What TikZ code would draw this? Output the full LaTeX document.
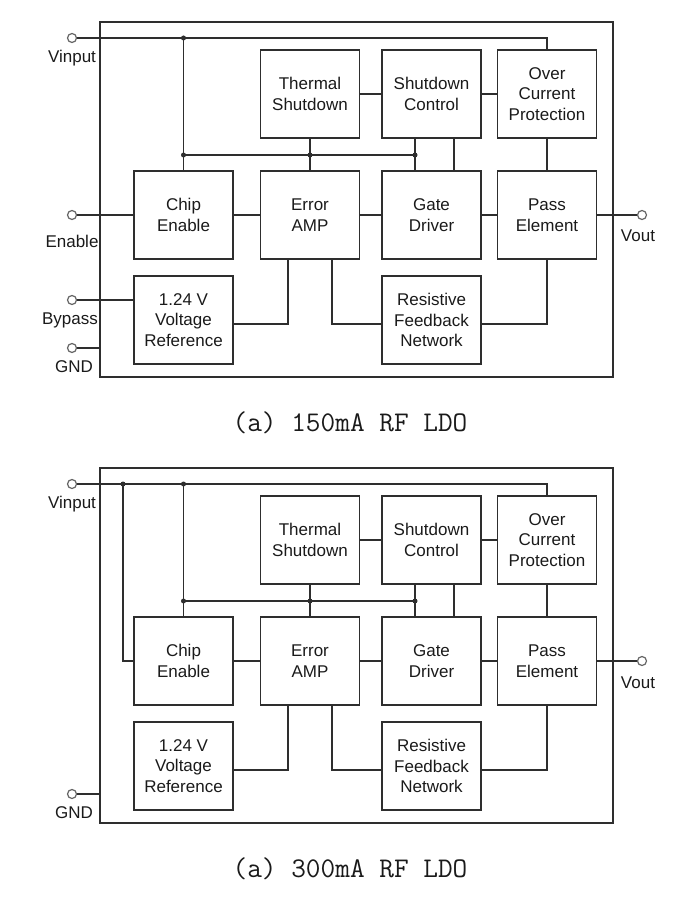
\documentclass[tikz,border=0pt]{standalone}
\usepackage{fontspec}
\setmainfont{Liberation Sans}
\usetikzlibrary{positioning}
\definecolor{linecol}{HTML}{2E2E2E}
\definecolor{textcol}{HTML}{1A1A1A}
\tikzset{
	block/.style={draw=linecol, line width=1.5pt, minimum width=99pt, minimum height=88pt, align=center, inner sep=1pt, text=textcol, font=\fontsize{17}{20.5}\selectfont},
	package/.style={draw=linecol, line width=1.5pt, minimum width=513pt, minimum height=355pt, inner sep=0pt},
	pinout/.style={circle, draw=gray!80!black, line width=1.2pt, fill=white, minimum size=9pt, inner sep=0pt},
	pinlabel/.style={inner sep=0pt, text=textcol, font=\fontsize{17}{20}\selectfont},
	wire/.style={draw=linecol, line width=1.5pt},
	dot/.style={circle, fill=linecol, minimum size=5pt, inner sep=0pt},
	caption/.style={inner sep=0pt, text=textcol, font=\ttfamily\fontsize{28.5}{31}\selectfont}
}
\begin{document}
\begin{tikzpicture}[x=1pt, y=-1pt]
	\useasboundingbox (0,0) rectangle (691,901);
	\foreach \n/\dy in {1/0, 2/446} {
		\begin{scope}[shift={(0,\dy)}]
			\node [package] (pkg\n) at (356.5,199.5) {};
			\node [block] (ts\n) at (310,94) {Thermal\\Shutdown};
			\node [block] (sc\n) at (431.5,94) {Shutdown\\Control};
			\node [block] (ocp\n) at (547,94) {Over\\Current\\Protection};
			\node [block] (ce\n) at (183.5,215) {Chip\\Enable};
			\node [block] (ea\n) at (310,215) {Error\\AMP};
			\node [block] (gd\n) at (431.5,215) {Gate\\Driver};
			\node [block] (pe\n) at (547,215) {Pass\\Element};
			\node [block] (vr\n) at (183.5,320) {1.24 V\\Voltage\\Reference};
			\node [block] (rf\n) at (431.5,320) {Resistive\\Feedback\\Network};
			\node [pinout] (vin\n) at (72,38) {};
			\node [pinout] (gnd\n) at (72,348) {};
			\node [pinout] (vout\n) at (642,215) {};
			\node [pinlabel, below=7pt of vin\n] (vinl\n) {Vinput};
			\node [pinlabel, below=7pt of gnd\n, xshift=2pt] (gndl\n) {GND};
			\node [pinlabel, below=10pt of vout\n, xshift=-4pt] (voutl\n) {Vout};
			\coordinate (bus\n) at (0,155);
			\coordinate (fb\n) at (0,324);
			\coordinate (sca\n) at ([xshift=-16.5pt]sc\n.south);
			\coordinate (scb\n) at ([xshift=22.5pt]sc\n.south);
			% supply and bias lines
			\draw [wire] (vin\n) -- (ocp\n.north |- vin\n) -- (ocp\n.north);
			\draw [wire] (ce\n.north |- vin\n) -- (ce\n.north);
			\draw [wire] (ce\n.north |- bus\n) -- (sca\n |- bus\n);
			\draw [wire] (ts\n.south) -- (ea\n.north);
			\draw [wire] (sca\n) -- (sca\n |- gd\n.north);
			\draw [wire] (scb\n) -- (scb\n |- gd\n.north);
			\node [dot] (ja\n) at (ce\n.north |- vin\n) {};
			\node [dot] (jb\n) at (ce\n.north |- bus\n) {};
			\node [dot] (jc\n) at (ea\n.north |- bus\n) {};
			\node [dot] (jd\n) at (sca\n |- bus\n) {};
			% signal path
			\draw [wire] (ts\n) -- (sc\n);
			\draw [wire] (sc\n) -- (ocp\n);
			\draw [wire] (ocp\n) -- (pe\n);
			\draw [wire] (ce\n) -- (ea\n);
			\draw [wire] (ea\n) -- (gd\n);
			\draw [wire] (gd\n) -- (pe\n);
			\draw [wire] (pe\n) -- (vout\n);
			\draw [wire] (gnd\n) -- (gnd\n -| pkg\n.west);
			% feedback
			\draw [wire] (vr\n.east |- fb\n) -| ([xshift=-22pt]ea\n.south);
			\draw [wire] (rf\n.west |- fb\n) -| ([xshift=22pt]ea\n.south);
			\draw [wire] (rf\n.east |- fb\n) -| (pe\n.south);
		\end{scope}
	}
	% 150mA part
	\node [pinout] (en1) at (72,215) {};
	\node [pinout] (byp1) at (72,300) {};
	\node [pinlabel, below=15pt of en1] (enl1) {Enable};
	\node [pinlabel, below=8pt of byp1, xshift=-2pt] (bypl1) {Bypass};
	\draw [wire] (en1) -- (ce1);
	\draw [wire] (byp1) -- (byp1 -| vr1.west);
	\node [caption] (cap1) at (350,423) {(a) 150mA RF LDO};
	% 300mA part
	\coordinate (tap2) at (123,484);
	\draw [wire] (tap2) |- (ce2.west);
	\node [dot] (je2) at (tap2) {};
	\node [caption] (cap2) at (350,869) {(a) 300mA RF LDO};
\end{tikzpicture}
\end{document}
